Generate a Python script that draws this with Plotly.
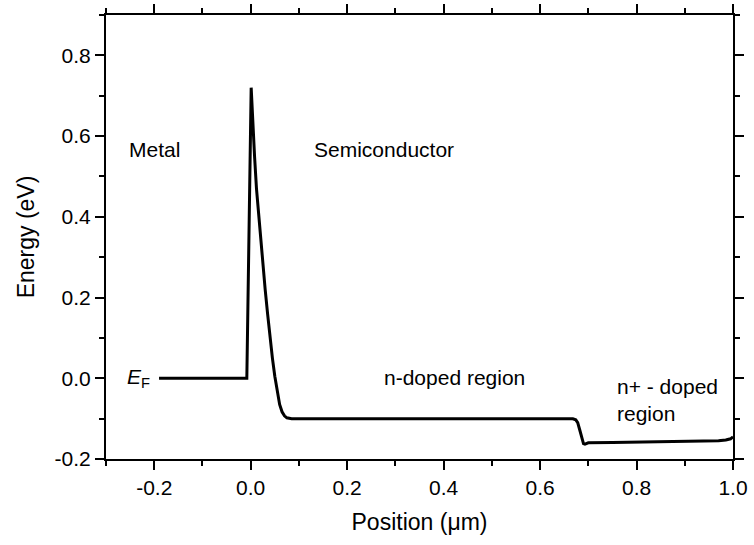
import plotly.graph_objects as go

# Energy band profile data (position in um, energy in eV)
pos = [-0.19, -0.008, 0.001, 0.004, 0.008, 0.012, 0.016, 0.02, 0.025, 0.03, 0.035,
       0.04, 0.045, 0.05, 0.055, 0.06, 0.065, 0.07, 0.075, 0.085, 0.2, 0.4, 0.6,
       0.66, 0.668, 0.674, 0.678, 0.682, 0.686, 0.69, 0.693, 0.7, 0.75, 0.85, 0.93,
       0.97, 0.985, 0.995, 1.0]
energy = [0.0, 0.0, 0.72, 0.64, 0.55, 0.47, 0.41, 0.35, 0.28, 0.22, 0.16,
          0.10, 0.05, 0.005, -0.035, -0.065, -0.083, -0.093, -0.098, -0.1, -0.1, -0.1, -0.1,
          -0.1, -0.1005, -0.103, -0.11, -0.127, -0.148, -0.162, -0.163, -0.16, -0.159, -0.158, -0.157,
          -0.155, -0.153, -0.15, -0.145]

x_tickvals = [-0.2, 0.0, 0.2, 0.4, 0.6, 0.8, 1.0]
x_ticktext = ["-0.2", "0.0", "0.2", "0.4", "0.6", "0.8", "1.0"]
y_tickvals = [-0.2, 0.0, 0.2, 0.4, 0.6, 0.8]
y_ticktext = ["-0.2", "0.0", "0.2", "0.4", "0.6", "0.8"]

labels = [
    ("Metal", -0.256, 0.566),
    ("Semiconductor", 0.127, 0.566),
    ("n-doped region", 0.272, 0.002),
    ("n+ - doped<br>region", 0.756, -0.055),
    ("<i>E</i><sub>F</sub>", -0.26, 0.0),
]

FONT = "Liberation Sans, Arial, sans-serif"

fig = go.Figure()
fig.add_trace(go.Scatter(x=pos, y=energy, mode="lines",
                         line=dict(color="black", width=3),
                         showlegend=False, hoverinfo="skip"))

for txt, xv, yv in labels:
    fig.add_annotation(x=xv, y=yv, text=txt, showarrow=False,
                       xanchor="left", yanchor="middle", align="left",
                       font=dict(family=FONT, size=21, color="black"))

axis_common = dict(
    showline=True, linecolor="black", linewidth=2, mirror="allticks",
    ticks="outside", ticklen=9, tickwidth=2, tickcolor="black",
    showgrid=False, zeroline=False, automargin=False,
    tickfont=dict(family=FONT, size=21, color="black"),
)

fig.update_xaxes(range=[-0.3, 1.0], tickvals=x_tickvals, ticktext=x_ticktext,
                 minor=dict(ticks="outside", ticklen=5, tickwidth=2, tickcolor="black", dtick=0.1, tick0=0.0,
                            showgrid=False),
                 title=dict(text="Position (\u03bcm)", font=dict(family=FONT, size=23, color="black"), standoff=16),
                 **axis_common)
fig.update_yaxes(range=[-0.2, 0.9], tickvals=y_tickvals, ticktext=y_ticktext,
                 minor=dict(ticks="outside", ticklen=5, tickwidth=2, tickcolor="black", dtick=0.1, tick0=0.0,
                            showgrid=False),
                 title=dict(text="Energy (eV)", font=dict(family=FONT, size=23, color="black"), standoff=14),
                 **axis_common)

fig.update_layout(width=754, height=545, margin=dict(l=106, r=21, t=15, b=86),
                  plot_bgcolor="white", paper_bgcolor="white")

fig.write_html("out.html")
